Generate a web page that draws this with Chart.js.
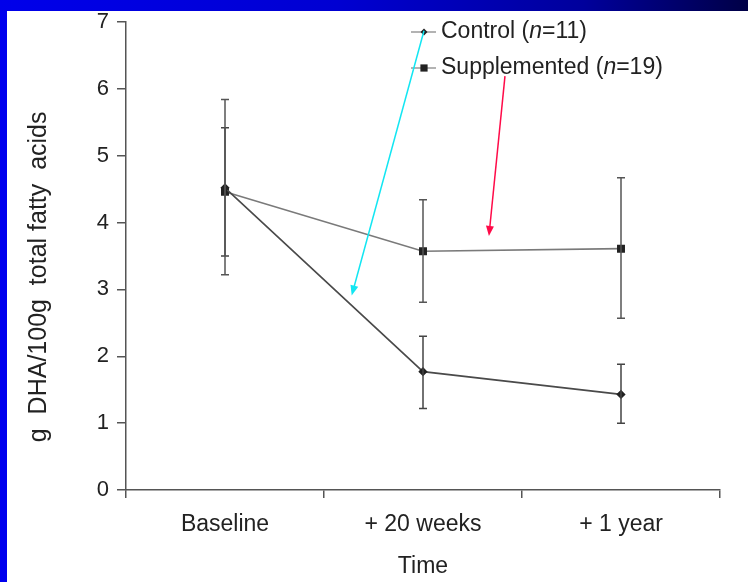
<!DOCTYPE html>
<html>
<head>
<meta charset="utf-8">
<script src="https://cdn.jsdelivr.net/npm/chart.js@4.4.1/dist/chart.umd.min.js"></script>
<style>
  body { margin: 0; width: 748px; height: 582px; background: #0000ee; position: relative; overflow: hidden; }
  #topbar { position: absolute; left: 0; top: 0; width: 748px; height: 11px;
    background: linear-gradient(to right, #0000ea 0%, #0000d2 45%, #00009c 78%, #000046 100%); }
  #panel { position: absolute; left: 7px; top: 11px; width: 741px; height: 571px; background: #fff; }
  #wrap { position: absolute; left: 0; top: 0; width: 748px; height: 582px; }
</style>
</head>
<body>
<div id="topbar"></div>
<div id="panel"></div>
<div id="wrap"><canvas id="myChart" width="748" height="582"></canvas></div>
<script>
// data
const timeLabels = ["Baseline", "+ 20 weeks", "+ 1 year"];
const controlMean = [4.52, 1.77, 1.43];
const controlHigh = [5.42, 2.30, 1.88];
const controlLow = [3.50, 1.22, 1.00];
const suppMean = [4.46, 3.57, 3.61];
const suppHigh = [5.84, 4.34, 4.67];
const suppLow = [3.22, 2.81, 2.57];
const yTicks = [0, 1, 2, 3, 4, 5, 6, 7];

// legend text, split so the n can be italic
const legendParts = [
  ["Control (", "n", "=11)"],
  ["Supplemented (", "n", "=19)"],
];

// annotation arrows, in axis units (category index, y value)
const arrows = [
  { color: "#12e6f2", from: [1.005, 6.87], to: [0.64, 2.91] },
  { color: "#ff0a48", from: [1.414, 6.19], to: [1.333, 3.80] },
];

const fontFam = "'Liberation Sans', Arial, sans-serif";

const errorBars = {
  id: "errorBars",
  afterDatasetsDraw(chart) {
    const ctx = chart.ctx;
    const y = chart.scales.y;
    chart.data.datasets.forEach((ds, i) => {
      const meta = chart.getDatasetMeta(i);
      ctx.save();
      ctx.strokeStyle = ds.errColor;
      ctx.lineWidth = 1.5;
      meta.data.forEach((pt, j) => {
        const yh = y.getPixelForValue(ds.high[j]);
        const yl = y.getPixelForValue(ds.low[j]);
        ctx.beginPath();
        ctx.moveTo(pt.x, yh);
        ctx.lineTo(pt.x, yl);
        ctx.moveTo(pt.x - 4, yh);
        ctx.lineTo(pt.x + 4, yh);
        ctx.moveTo(pt.x - 4, yl);
        ctx.lineTo(pt.x + 4, yl);
        ctx.stroke();
      });
      ctx.restore();
    });
  },
};

const arrowPlugin = {
  id: "arrowPlugin",
  afterDraw(chart) {
    const ctx = chart.ctx;
    const sx = chart.scales.x, sy = chart.scales.y;
    arrows.forEach((a) => {
      const x1 = sx.getPixelForValue(a.from[0]), y1 = sy.getPixelForValue(a.from[1]);
      const x2 = sx.getPixelForValue(a.to[0]), y2 = sy.getPixelForValue(a.to[1]);
      const ang = Math.atan2(y2 - y1, x2 - x1);
      ctx.save();
      ctx.strokeStyle = a.color;
      ctx.fillStyle = a.color;
      ctx.lineWidth = 1.5;
      ctx.beginPath();
      ctx.moveTo(x1, y1);
      ctx.lineTo(x2 - 8 * Math.cos(ang), y2 - 8 * Math.sin(ang));
      ctx.stroke();
      ctx.beginPath();
      ctx.moveTo(x2, y2);
      ctx.lineTo(x2 - 10 * Math.cos(ang) + 4 * Math.sin(ang), y2 - 10 * Math.sin(ang) - 4 * Math.cos(ang));
      ctx.lineTo(x2 - 10 * Math.cos(ang) - 4 * Math.sin(ang), y2 - 10 * Math.sin(ang) + 4 * Math.cos(ang));
      ctx.closePath();
      ctx.fill();
      ctx.restore();
    });
  },
};

const legendPlugin = {
  id: "legendPlugin",
  afterDraw(chart) {
    const ctx = chart.ctx;
    const area = chart.chartArea;
    const x0 = area.left + 285;
    const rows = [area.top + 10, area.top + 46];
    chart.data.datasets.forEach((ds, i) => {
      const yy = rows[i];
      ctx.save();
      ctx.strokeStyle = "#9a9a9a";
      ctx.lineWidth = 1.5;
      ctx.beginPath();
      ctx.moveTo(x0, yy);
      ctx.lineTo(x0 + 25, yy);
      ctx.stroke();
      ctx.fillStyle = "#222";
      const r = ds.pointRadius;
      if (ds.pointStyle === "rect") {
        ctx.fillRect(x0 + 13 - r * 0.8, yy - r * 0.8, r * 1.6, r * 1.6);
      } else {
        ctx.beginPath();
        ctx.moveTo(x0 + 13, yy - r);
        ctx.lineTo(x0 + 13 + r, yy);
        ctx.lineTo(x0 + 13, yy + r);
        ctx.lineTo(x0 + 13 - r, yy);
        ctx.closePath();
        ctx.fill();
      }
      ctx.textBaseline = "middle";
      let tx = x0 + 30;
      legendParts[i].forEach((part, k) => {
        ctx.font = (k === 1 ? "italic " : "") + "23px " + fontFam;
        ctx.fillText(part, tx, yy);
        tx += ctx.measureText(part).width;
      });
      ctx.restore();
    });
  },
};

const data = {
  labels: timeLabels,
  datasets: [
    {
      label: "Control (n=11)",
      data: controlMean,
      high: controlHigh,
      low: controlLow,
      borderColor: "#4a4a4a",
      borderWidth: 1.6,
      pointStyle: "rectRot",
      pointRadius: 3.5,
      pointBackgroundColor: "#222",
      pointBorderColor: "#222",
      errColor: "#444",
    },
    {
      label: "Supplemented (n=19)",
      data: suppMean,
      high: suppHigh,
      low: suppLow,
      borderColor: "#7a7a7a",
      borderWidth: 1.6,
      pointStyle: "rect",
      pointRadius: 4.5,
      pointBackgroundColor: "#222",
      pointBorderColor: "#222",
      errColor: "#555",
    },
  ],
};

const config = {
  type: "line",
  data: data,
  options: {
    responsive: false,
    animation: false,
    layout: { padding: { top: 22, right: 28, left: 0, bottom: 0 } },
    plugins: { legend: { display: false }, tooltip: { enabled: false } },
    scales: {
      x: {
        type: "category",
        offset: true,
        grid: { offset: true, drawOnChartArea: false, tickLength: 8, color: "#555", lineWidth: 1.5 },
        border: { color: "#555", width: 1.5 },
        ticks: { color: "#222", font: { family: fontFam, size: 23 }, padding: 13 },
        title: {
          display: true,
          text: "Time",
          color: "#222",
          font: { family: fontFam, size: 23 },
          padding: { top: 0, bottom: 2 },
        },
        afterFit: (s) => { s.height = 92; },
      },
      y: {
        min: 0,
        max: 7,
        afterBuildTicks: (s) => { s.ticks = yTicks.map((v) => ({ value: v })); },
        grid: { drawOnChartArea: false, tickLength: 9, color: "#555", lineWidth: 1.5 },
        border: { color: "#555", width: 1.5 },
        ticks: { color: "#222", font: { family: fontFam, size: 22 }, padding: 8 },
        title: {
          display: true,
          // trailing spaces push the visible text a little lower, as in the picture
          text: "g  DHA/100g  total fatty  acids      ",
          color: "#222",
          font: { family: fontFam, size: 25 },
          padding: { top: 24, bottom: 0 },
        },
        afterFit: (s) => { s.width = 126; },
      },
    },
  },
  plugins: [errorBars, legendPlugin, arrowPlugin],
};

const ctx = document.getElementById("myChart").getContext("2d");
new Chart(ctx, config);
</script>
</body>
</html>
